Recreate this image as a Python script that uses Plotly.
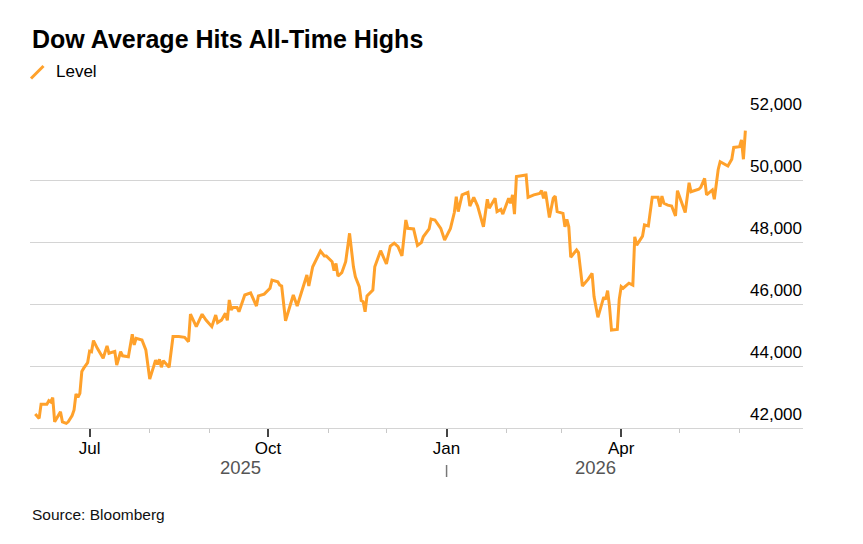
import pandas as pd
import plotly.graph_objects as go

# ---------------- data ----------------
dates = [
    "2025-06-03", "2025-06-05", "2025-06-06", "2025-06-09", "2025-06-10", "2025-06-11",
    "2025-06-12", "2025-06-13", "2025-06-16", "2025-06-17", "2025-06-19", "2025-06-20",
    "2025-06-22", "2025-06-23", "2025-06-24", "2025-06-25", "2025-06-26", "2025-06-27",
    "2025-06-28", "2025-06-30", "2025-07-01", "2025-07-02", "2025-07-03", "2025-07-05",
    "2025-07-08", "2025-07-10", "2025-07-11", "2025-07-13", "2025-07-14", "2025-07-15",
    "2025-07-17", "2025-07-18", "2025-07-21", "2025-07-23", "2025-07-24", "2025-07-25",
    "2025-07-28", "2025-07-30", "2025-07-31", "2025-08-01", "2025-08-03", "2025-08-04",
    "2025-08-05", "2025-08-06", "2025-08-07", "2025-08-08", "2025-08-11", "2025-08-13",
    "2025-08-16", "2025-08-19", "2025-08-21", "2025-08-22", "2025-08-25", "2025-08-28",
    "2025-08-30", "2025-09-02", "2025-09-04", "2025-09-05", "2025-09-07", "2025-09-09",
    "2025-09-10", "2025-09-11", "2025-09-12", "2025-09-13", "2025-09-15", "2025-09-16",
    "2025-09-19", "2025-09-22", "2025-09-25", "2025-09-26", "2025-09-29", "2025-10-02",
    "2025-10-03", "2025-10-06", "2025-10-07", "2025-10-08", "2025-10-10", "2025-10-14",
    "2025-10-16", "2025-10-18", "2025-10-21", "2025-10-22", "2025-10-24", "2025-10-28",
    "2025-10-30", "2025-10-31", "2025-11-03", "2025-11-04", "2025-11-05", "2025-11-06",
    "2025-11-08", "2025-11-10", "2025-11-12", "2025-11-14", "2025-11-15", "2025-11-17",
    "2025-11-18", "2025-11-19", "2025-11-20", "2025-11-21", "2025-11-24", "2025-11-25",
    "2025-11-28", "2025-12-01", "2025-12-03", "2025-12-05", "2025-12-07", "2025-12-09",
    "2025-12-11", "2025-12-12", "2025-12-15", "2025-12-17", "2025-12-19", "2025-12-20",
    "2025-12-23", "2025-12-24", "2025-12-26", "2025-12-29", "2025-12-31", "2026-01-03",
    "2026-01-05", "2026-01-06", "2026-01-07", "2026-01-09", "2026-01-12", "2026-01-13",
    "2026-01-15", "2026-01-17", "2026-01-20", "2026-01-22", "2026-01-23", "2026-01-26",
    "2026-01-27", "2026-01-29", "2026-01-30", "2026-02-02", "2026-02-03", "2026-02-04",
    "2026-02-05", "2026-02-06", "2026-02-10", "2026-02-11", "2026-02-12", "2026-02-15",
    "2026-02-18", "2026-02-19", "2026-02-20", "2026-02-21", "2026-02-23", "2026-02-25",
    "2026-02-26", "2026-02-27", "2026-03-02", "2026-03-03", "2026-03-04", "2026-03-05",
    "2026-03-06", "2026-03-09", "2026-03-10", "2026-03-12", "2026-03-15", "2026-03-17",
    "2026-03-18", "2026-03-20", "2026-03-23", "2026-03-24", "2026-03-25", "2026-03-26",
    "2026-03-27", "2026-03-30", "2026-03-31", "2026-04-01", "2026-04-02", "2026-04-05",
    "2026-04-07", "2026-04-08", "2026-04-09", "2026-04-12", "2026-04-13", "2026-04-15",
    "2026-04-17", "2026-04-20", "2026-04-21", "2026-04-22", "2026-04-23", "2026-04-25",
    "2026-04-27", "2026-04-29", "2026-04-30", "2026-05-02", "2026-05-04", "2026-05-06",
    "2026-05-07", "2026-05-11", "2026-05-12", "2026-05-14", "2026-05-15", "2026-05-18",
    "2026-05-19", "2026-05-21", "2026-05-22", "2026-05-26", "2026-05-28", "2026-05-29",
    "2026-06-01", "2026-06-02", "2026-06-03", "2026-06-04",
]

level = [
    42450, 42310, 42770, 42770, 42880, 42840,
    42980, 42200, 42520, 42200, 42150, 42200,
    42400, 42580, 43100, 42990, 43120, 43820,
    43930, 44110, 44480, 44460, 44820, 44570,
    44250, 44650, 44410, 44460, 44470, 44030,
    44460, 44330, 44300, 45020, 44680, 44890,
    44840, 44520, 43980, 43580, 43980, 44190,
    44050, 44215, 43960, 44170, 43960, 44950,
    44950, 44925, 44785, 45670, 45270, 45670,
    45480, 45270, 45645, 45400, 45480, 45700,
    45470, 46130, 45810, 45890, 45890, 45750,
    46290, 46360, 45935, 46260, 46320, 46510,
    46770, 46720, 46610, 46580, 45460, 46290,
    45935, 46340, 46935, 46580, 47200, 47710,
    47550, 47550, 47365, 47075, 47310, 46900,
    47010, 47365, 48280, 47200, 46880, 46560,
    46110, 46075, 45750, 46260, 46450, 47200,
    47720, 47290, 47870, 47960, 47850, 47550,
    48710, 48440, 48420, 47890, 47980, 48170,
    48420, 48740, 48710, 48440, 48065, 48440,
    48950, 49460, 48980, 49520, 49600, 49160,
    49440, 49160, 48490, 49380, 49090, 49410,
    48980, 49050, 48900, 49410, 49250, 49520,
    48900, 50110, 50140, 50160, 49440, 49520,
    49570, 49655, 49410, 49620, 48790, 49410,
    49480, 48980, 48925, 48490, 48730, 48490,
    47510, 47740, 47655, 46580, 46800, 46990,
    46240, 45570, 46220, 46150, 46430, 45910,
    45160, 45180, 46150, 46560, 46510, 46670,
    46610, 48170, 47900, 48190, 48550, 48520,
    49440, 49440, 49140, 49480, 49250, 49190,
    49160, 48840, 49655, 49270, 48950, 49910,
    49620, 49700, 49760, 50050, 49520, 49680,
    49380, 50340, 50590, 50450, 50670, 51050,
    51075, 51290, 50670, 51590,
]

y_ticks = [42000, 44000, 46000, 48000, 50000, 52000]
y_tick_labels = ["42,000", "44,000", "46,000", "48,000", "50,000", "52,000"]
x_major_ticks = ["2025-07-01", "2025-10-01", "2026-01-01", "2026-04-01"]
x_major_labels = ["Jul", "Oct", "Jan", "Apr"]
x_minor_ticks = ["2025-08-01", "2025-09-01", "2025-11-01", "2025-12-01",
                 "2026-02-01", "2026-03-01", "2026-05-01", "2026-06-01"]
year_labels = ["2025", "2026"]
year_break = "2026-01-01"

title_text = "Dow Average Hits All-Time Highs"
series_name = "Level"
source_text = "Source: Bloomberg"

# ---------------- styling ----------------
ORANGE = "#FFA12B"
GRID = "#d4d4d4"
FONT = "Liberation Sans, Arial, Helvetica, sans-serif"

W, H = 863, 544
ML, MR, MT, MB = 30, 60, 118, 116
PW, PH = W - ML - MR, H - MT - MB


def px_x(p):  # pixel -> paper x
    return (p - ML) / PW


def px_y(p):  # pixel -> paper y
    return (H - MB - p) / PH


d = pd.to_datetime(dates)
brk = pd.Timestamp(year_break)
year_centers = [d.min() + (brk - d.min()) / 2, brk + (d.max() - brk) / 2]

fig = go.Figure()
fig.add_trace(go.Scatter(
    x=d, y=level, mode="lines", name=series_name,
    line=dict(color=ORANGE, width=3), showlegend=False,
    hovertemplate="%{x|%b %d, %Y}: %{y:,.0f}<extra></extra>",
))

annotations = []
# title
annotations.append(dict(
    text="<b>" + title_text + "</b>", xref="paper", yref="paper",
    x=px_x(30), y=px_y(38.5), xanchor="left", yanchor="middle",
    showarrow=False, font=dict(family=FONT, size=25, color="#000"),
))
# legend label
annotations.append(dict(
    text=series_name, xref="paper", yref="paper",
    x=px_x(54), y=px_y(71.5), xanchor="left", yanchor="middle",
    showarrow=False, font=dict(family=FONT, size=17, color="#000"),
))
# y tick labels (above gridlines, right aligned)
for v, t in zip(y_ticks, y_tick_labels):
    annotations.append(dict(
        text=t, xref="paper", yref="y", x=1, y=v,
        xanchor="right", yanchor="middle", yshift=14, xshift=1,
        showarrow=False, font=dict(family=FONT, size=17, color="#000"),
    ))
# year labels
for c, t in zip(year_centers, year_labels):
    annotations.append(dict(
        text=t, xref="x", yref="paper", x=c, y=px_y(467.5),
        xanchor="center", yanchor="middle", showarrow=False,
        font=dict(family=FONT, size=18.5, color="#555"),
    ))
# source
annotations.append(dict(
    text=source_text, xref="paper", yref="paper",
    x=px_x(30), y=px_y(514), xanchor="left", yanchor="middle",
    showarrow=False, font=dict(family=FONT, size=15.5, color="#111"),
))

shapes = [
    # legend swatch (diagonal stroke)
    dict(type="line", xref="paper", yref="paper",
         x0=px_x(31), y0=px_y(78.5), x1=px_x(43.5), y1=px_y(66),
         line=dict(color=ORANGE, width=3)),
    # year separator
    dict(type="line", xref="x", yref="paper",
         x0=brk, x1=brk, y0=px_y(465), y1=px_y(477),
         line=dict(color="#777", width=1.5)),
]

fig.update_layout(
    width=W, height=H,
    margin=dict(l=ML, r=MR, t=MT, b=MB, autoexpand=False),
    paper_bgcolor="white", plot_bgcolor="white",
    showlegend=False,
    annotations=annotations, shapes=shapes,
    font=dict(family=FONT, size=17, color="#000"),
    xaxis=dict(
        type="date",
        range=["2025-05-31 07:00", "2026-07-03 17:00"],
        tickmode="array", tickvals=x_major_ticks, ticktext=x_major_labels,
        ticks="outside", ticklen=8, tickwidth=1.5, tickcolor="#444",
        ticklabelstandoff=-3,
        tickfont=dict(family=FONT, size=17, color="#000"),
        showgrid=False, zeroline=False,
        showline=True, linecolor=GRID, linewidth=1,
        minor=dict(tickmode="array", tickvals=x_minor_ticks,
                   ticks="outside", ticklen=4, tickwidth=1,
                   tickcolor="#c8c8c8", showgrid=False),
        automargin=False, fixedrange=True,
    ),
    yaxis=dict(
        range=[42000, 52000],
        tickmode="array", tickvals=y_ticks, showticklabels=False,
        showgrid=True, gridcolor=GRID, gridwidth=1,
        zeroline=False, showline=False, ticks="",
        automargin=False, fixedrange=True,
    ),
)

fig.write_html("out.html")
